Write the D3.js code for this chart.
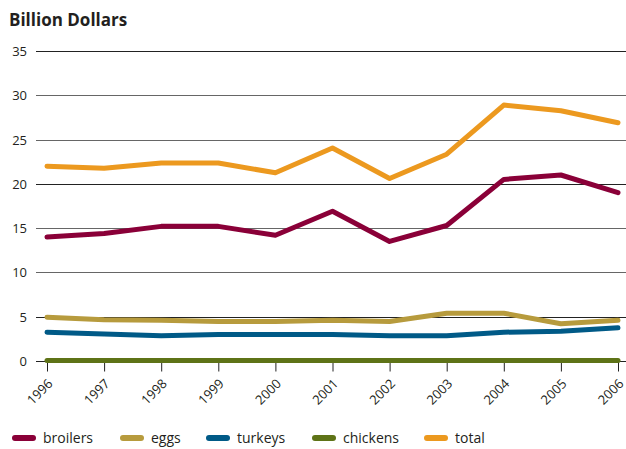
<!DOCTYPE html>
<html><head><meta charset="utf-8">
<script src="https://cdn.jsdelivr.net/npm/d3@7"></script>
<style>body{margin:0;background:#fff}svg{display:block}text{font-family:"Open Sans",sans-serif;fill:#231f20}</style>
</head><body><svg id="c" width="626" height="449"></svg>
<script>
const years = [1996,1997,1998,1999,2000,2001,2002,2003,2004,2005,2006];
const broilers = [14.0,14.4,15.2,15.2,14.2,16.9,13.5,15.3,20.5,21.0,19.0];
const eggs = [4.95,4.65,4.6,4.45,4.45,4.6,4.45,5.4,5.4,4.2,4.6];
const turkeys = [3.25,3.05,2.85,3.0,3.0,3.0,2.85,2.85,3.25,3.35,3.75];
const chickens = [0.05,0.05,0.05,0.05,0.05,0.05,0.05,0.05,0.05,0.05,0.05];
const total = [22.0,21.75,22.35,22.35,21.25,24.05,20.6,23.35,28.9,28.25,26.9];
const yTicks = [0,5,10,15,20,25,30,35];
const seriesNames = ["broilers","eggs","turkeys","chickens","total"];
const seriesColors = ["#8a0038","#b79b3d","#005a87","#5e7317","#ec991f"];
const seriesData = [broilers,eggs,turkeys,chickens,total];

const svg = d3.select("#c");
const x = d3.scalePoint().domain(years).range([47,618]);
const y = d3.scaleLinear().domain([0,35]).range([361,51]);

svg.append("text").attr("x",9).attr("y",26).attr("font-size",17).attr("font-weight","bold").text("Billion Dollars");

// grid
const yAxis = d3.axisLeft(y).tickValues(yTicks).tickSize(0).tickPadding(0);
const gy = svg.append("g").attr("transform","translate(36,0)").call(yAxis);
gy.select(".domain").remove();
gy.selectAll("text").attr("x",-9).attr("dy","0.35em").attr("font-size",13).style("font-family","'Open Sans',sans-serif").attr("fill","#231f20");
svg.append("g").selectAll("line").data(yTicks).join("line")
  .attr("x1",36).attr("x2",626).attr("y1",d=>Math.round(y(d))+0.5).attr("y2",d=>Math.round(y(d))+0.5)
  .attr("stroke",d=>[0,5,20,35].includes(d)?"#222":"#666").attr("stroke-width",1);

// x axis
const xAxis = d3.axisBottom(x).tickSize(10).tickPadding(0);
const gx = svg.append("g").attr("transform","translate(0,361.5)").call(xAxis);
gx.select(".domain").remove();
gx.selectAll("line").attr("stroke","#222");
gx.selectAll("text").attr("font-size",13).style("font-family","'Open Sans',sans-serif").attr("fill","#231f20")
  .attr("text-anchor","end").attr("dy",0).attr("y",0)
  .attr("transform","translate(6,23) rotate(-45)");

const line = d3.line().x((d,i)=>x(years[i])).y(d=>y(d));
const order = [3,1,2,0,4];
order.forEach(k=>{
  svg.append("path").datum(seriesData[k]).attr("d",line).attr("fill","none")
    .attr("stroke",seriesColors[k]).attr("stroke-width",5).attr("stroke-linejoin","round").attr("stroke-linecap","round");
});

// legend
const legX = [12,120,206,312,424];
const lg = svg.append("g").attr("transform","translate(0,438)");
seriesNames.forEach((n,i)=>{
  lg.append("line").attr("x1",legX[i]+3).attr("x2",legX[i]+21).attr("y1",0).attr("y2",0)
    .attr("stroke",seriesColors[i]).attr("stroke-width",6).attr("stroke-linecap","round");
  lg.append("text").attr("x",legX[i]+31).attr("y",5).attr("font-size",14).text(n);
});
</script></body></html>
